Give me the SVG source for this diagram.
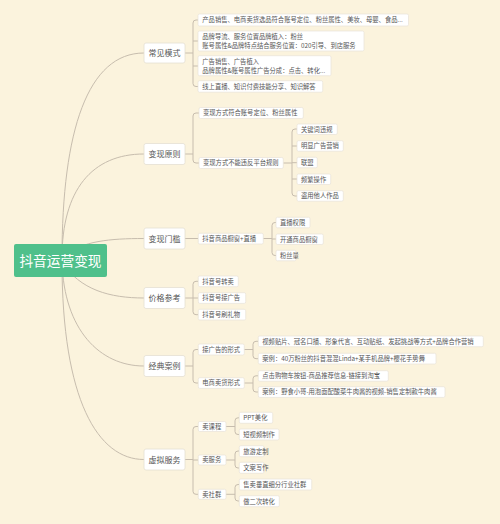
<svg xmlns="http://www.w3.org/2000/svg" width="500" height="524" viewBox="0 0 500 524">
<style>
.bg{fill:#FBF3DD}
.ln{fill:none;stroke:#c7bdae;stroke-width:1}
.b1{fill:#fff;stroke:#e4dfd3;stroke-width:0.8}
.b2{fill:#fff;stroke:#e8e3d8;stroke-width:0.7}
text{font-family:"Noto Sans CJK SC","Noto Sans",sans-serif;fill:#555}
.t1{font-size:8px;text-anchor:middle}
.t2{font-size:6.3px}
.rt{font-size:13.7px;fill:#fff;text-anchor:middle}
</style>
<rect class="bg" x="0" y="0" width="500" height="524"/>
<g id="connectors">
<path class="ln" d="M62,258 C62,130 88,53 144,53"/>
<path class="ln" d="M62,258 C62,190 92,154 144,154"/>
<path class="ln" d="M64,256 C82,241 110,238.5 144,238.5"/>
<path class="ln" d="M62,262 C80,290 110,298 144,298"/>
<path class="ln" d="M62,262 C64,330 100,366 144,366"/>
<path class="ln" d="M62,262 C62,400 98,459.5 144,459.5"/>
<!-- 常见模式 -->
<path class="ln" d="M185,53 H193 M198,20 H196 Q193,20 193,23 V83.5 Q193,86.5 196,86.5 H198 M193,41 H198 M193,66 H198"/>
<!-- 变现原则 -->
<path class="ln" d="M185,154 H193 M199,113 H196 Q193,113 193,116 V160 Q193,163 196,163 H199"/>
<path class="ln" d="M283,163 H292 M297,129 H295 Q292,129 292,132 V193 Q292,196 295,196 H297 M292,146 H297 M292,162.7 H297 M292,179 H297"/>
<!-- 变现门槛 -->
<path class="ln" d="M185,238.5 H198"/>
<path class="ln" d="M263,238.5 H272 M276,222.5 H275 Q272,222.5 272,225.5 V252.5 Q272,255.5 275,255.5 H276 M272,239 H276"/>
<!-- 价格参考 -->
<path class="ln" d="M185,298 H193 M198,281.3 H196 Q193,281.3 193,284.3 V311.7 Q193,314.7 196,314.7 H198 M193,298 H198"/>
<!-- 经典案例 -->
<path class="ln" d="M185,366 H193 M198,349.5 H196 Q193,349.5 193,352.5 V380 Q193,383 196,383 H198"/>
<path class="ln" d="M244,349.5 H253 M258,341.3 H256 Q253,341.3 253,344.3 V355.7 Q253,358.7 256,358.7 H258"/>
<path class="ln" d="M244,383 H253 M258,375.8 H256 Q253,375.8 253,378.8 V389 Q253,392 256,392 H258"/>
<!-- 虚拟服务 -->
<path class="ln" d="M185,459.5 H193 M198,426.5 H196 Q193,426.5 193,429.5 V491.3 Q193,494.3 196,494.3 H198 M193,460 H198"/>
<path class="ln" d="M226,426.5 H235 M239,417.8 H238 Q235,417.8 235,420.8 V431.5 Q235,434.5 238,434.5 H239"/>
<path class="ln" d="M226,460 H235 M239,451 H238 Q235,451 235,454 V465 Q235,468 238,468 H239"/>
<path class="ln" d="M226,494.3 H235 M239,484.5 H238 Q235,484.5 235,487.5 V498 Q235,501 238,501 H239"/>
</g>
<g id="root">
<rect x="14" y="244" width="93" height="33" rx="2" fill="#4FC08B"/>
<text class="rt" x="60.5" y="265.5">抖音运营变现</text>
</g>
<g id="n-changjian">
<rect class="b1" x="144" y="43" width="41" height="20" rx="2"/>
<text class="t1" x="164.5" y="56">常见模式</text>
</g>
<g id="n-changjian-1"><rect class="b2" x="198" y="14" width="210.5" height="12" rx="1.5"/><text class="t2" x="202.3" y="22.4">产品销售、电商卖货选品符合账号定位、粉丝属性、美妆、母婴、食品...</text></g>
<g id="n-changjian-2"><rect class="b2" x="198" y="31" width="166" height="20" rx="1.5"/><text class="t2" x="202.3" y="39.1">品牌导流、服务位置品牌植入：粉丝</text><text class="t2" x="202.3" y="48">账号属性&amp;品牌特点结合服务位置：020引导、到店服务</text></g>
<g id="n-changjian-3"><rect class="b2" x="198" y="55.7" width="133" height="20" rx="1.5"/><text class="t2" x="202.3" y="63.8">广告销售、广告植入</text><text class="t2" x="202.3" y="72.7">品牌属性&amp;账号属性广告分成：点击、转化...</text></g>
<g id="n-changjian-4"><rect class="b2" x="198" y="80.7" width="124.7" height="11.5" rx="1.5"/><text class="t2" x="202.3" y="88.9">线上直播、知识付费技能分享、知识解答</text></g>

<g id="n-yuanze">
<rect class="b1" x="144" y="143.5" width="41" height="21" rx="2"/>
<text class="t1" x="164.5" y="157">变现原则</text>
</g>
<g id="n-yuanze-1"><rect class="b2" x="199" y="107.5" width="104.3" height="11" rx="1.5"/><text class="t2" x="203" y="115.4">变现方式符合账号定位、粉丝属性</text></g>
<g id="n-yuanze-2"><rect class="b2" x="199" y="157.5" width="84.3" height="11" rx="1.5"/><text class="t2" x="203" y="165.4">变现方式不能违反平台规则</text></g>
<g id="n-yuanze-2a"><rect class="b2" x="297" y="124" width="40.3" height="10.5" rx="1.5"/><text class="t2" x="301" y="131.6">关键词违规</text></g>
<g id="n-yuanze-2b"><rect class="b2" x="297" y="140.7" width="46.3" height="10.5" rx="1.5"/><text class="t2" x="301" y="148.3">明显广告营销</text></g>
<g id="n-yuanze-2c"><rect class="b2" x="297" y="157.3" width="20.3" height="10.5" rx="1.5"/><text class="t2" x="301" y="165">联盟</text></g>
<g id="n-yuanze-2d"><rect class="b2" x="297" y="174" width="33.7" height="10.5" rx="1.5"/><text class="t2" x="301" y="181.6">频繁操作</text></g>
<g id="n-yuanze-2e"><rect class="b2" x="297" y="190.7" width="46.3" height="10.5" rx="1.5"/><text class="t2" x="301" y="198.3">盗用他人作品</text></g>

<g id="n-menkan">
<rect class="b1" x="144" y="228" width="41" height="21" rx="2"/>
<text class="t1" x="164.5" y="241.5">变现门槛</text>
</g>
<g id="n-menkan-1"><rect class="b2" x="198.3" y="233.3" width="65" height="10.7" rx="1.5"/><text class="t2" x="202.3" y="241">抖音商品橱窗+直播</text></g>
<g id="n-menkan-1a"><rect class="b2" x="276" y="217.3" width="34" height="10.5" rx="1.5"/><text class="t2" x="280" y="224.9">直播权限</text></g>
<g id="n-menkan-1b"><rect class="b2" x="276" y="234" width="47.3" height="10.5" rx="1.5"/><text class="t2" x="280" y="241.6">开通商品橱窗</text></g>
<g id="n-menkan-1c"><rect class="b2" x="276" y="250.3" width="20" height="10.5" rx="1.5"/><text class="t2" x="280" y="257.9">粉丝量</text></g>

<g id="n-jiage">
<rect class="b1" x="144" y="287.5" width="41" height="21" rx="2"/>
<text class="t1" x="164.5" y="301">价格参考</text>
</g>
<g id="n-jiage-1"><rect class="b2" x="198.3" y="276" width="40" height="10.7" rx="1.5"/><text class="t2" x="202.3" y="283.7">抖音号转卖</text></g>
<g id="n-jiage-2"><rect class="b2" x="198.3" y="292.7" width="47.4" height="10.7" rx="1.5"/><text class="t2" x="202.3" y="300.4">抖音号接广告</text></g>
<g id="n-jiage-3"><rect class="b2" x="198.3" y="309.3" width="47.4" height="10.7" rx="1.5"/><text class="t2" x="202.3" y="317">抖音号刷礼物</text></g>

<g id="n-anli">
<rect class="b1" x="144" y="355.5" width="41" height="21" rx="2"/>
<text class="t1" x="164.5" y="369">经典案例</text>
</g>
<g id="n-anli-1"><rect class="b2" x="198.3" y="344" width="46" height="11" rx="1.5"/><text class="t2" x="202.3" y="351.9">接广告的形式</text></g>
<g id="n-anli-2"><rect class="b2" x="198.3" y="377.7" width="46" height="10.7" rx="1.5"/><text class="t2" x="202.3" y="385.4">电商卖货形式</text></g>
<g id="n-anli-1a"><rect class="b2" x="258.3" y="336" width="225" height="10.7" rx="1.5"/><text class="t2" x="262.3" y="343.7">视频贴片、冠名口播、形象代言、互动贴纸、发起挑战等方式+品牌合作营销</text></g>
<g id="n-anli-1b"><rect class="b2" x="258.3" y="353.3" width="177.7" height="10.7" rx="1.5"/><text class="t2" x="262.3" y="361">案例：40万粉丝的抖音混混Linda+某手机品牌+樱花手势舞</text></g>
<g id="n-anli-2a"><rect class="b2" x="258.3" y="370.7" width="130" height="10.5" rx="1.5"/><text class="t2" x="262.3" y="378.3">点击购物车按钮-商品推荐信息-链接到淘宝</text></g>
<g id="n-anli-2b"><rect class="b2" x="258.3" y="386.7" width="186.7" height="10.7" rx="1.5"/><text class="t2" x="262.3" y="394.4">案例：野食小哥-用泡面配酸菜牛肉酱的视频-销售定制款牛肉酱</text></g>

<g id="n-xuni">
<rect class="b1" x="144" y="449" width="41" height="21" rx="2"/>
<text class="t1" x="164.5" y="462.5">虚拟服务</text>
</g>
<g id="n-xuni-1"><rect class="b2" x="198.3" y="421.5" width="27.7" height="10" rx="1.5"/><text class="t2" x="202.3" y="428.8">卖课程</text></g>
<g id="n-xuni-2"><rect class="b2" x="198.3" y="455" width="27.7" height="10" rx="1.5"/><text class="t2" x="202.3" y="462.3">卖服务</text></g>
<g id="n-xuni-3"><rect class="b2" x="198.3" y="489.3" width="27.7" height="10" rx="1.5"/><text class="t2" x="202.3" y="496.6">卖社群</text></g>
<g id="n-xuni-1a"><rect class="b2" x="239.3" y="412.3" width="33.4" height="11" rx="1.5"/><text class="t2" x="243.3" y="420.2">PPT美化</text></g>
<g id="n-xuni-1b"><rect class="b2" x="239.3" y="429" width="39.7" height="11" rx="1.5"/><text class="t2" x="243.3" y="436.9">短视频制作</text></g>
<g id="n-xuni-2a"><rect class="b2" x="239.3" y="445.7" width="24.7" height="11" rx="1.5"/><text class="t2" x="243.3" y="453.6">旅游定制</text></g>
<g id="n-xuni-2b"><rect class="b2" x="239.3" y="462.3" width="24.7" height="11" rx="1.5"/><text class="t2" x="243.3" y="470.2">文案写作</text></g>
<g id="n-xuni-3a"><rect class="b2" x="239.3" y="479" width="72.4" height="11" rx="1.5"/><text class="t2" x="243.3" y="486.9">售卖垂直细分行业社群</text></g>
<g id="n-xuni-3b"><rect class="b2" x="239.3" y="495.7" width="40" height="11" rx="1.5"/><text class="t2" x="243.3" y="503.6">做二次转化</text></g>
</svg>
